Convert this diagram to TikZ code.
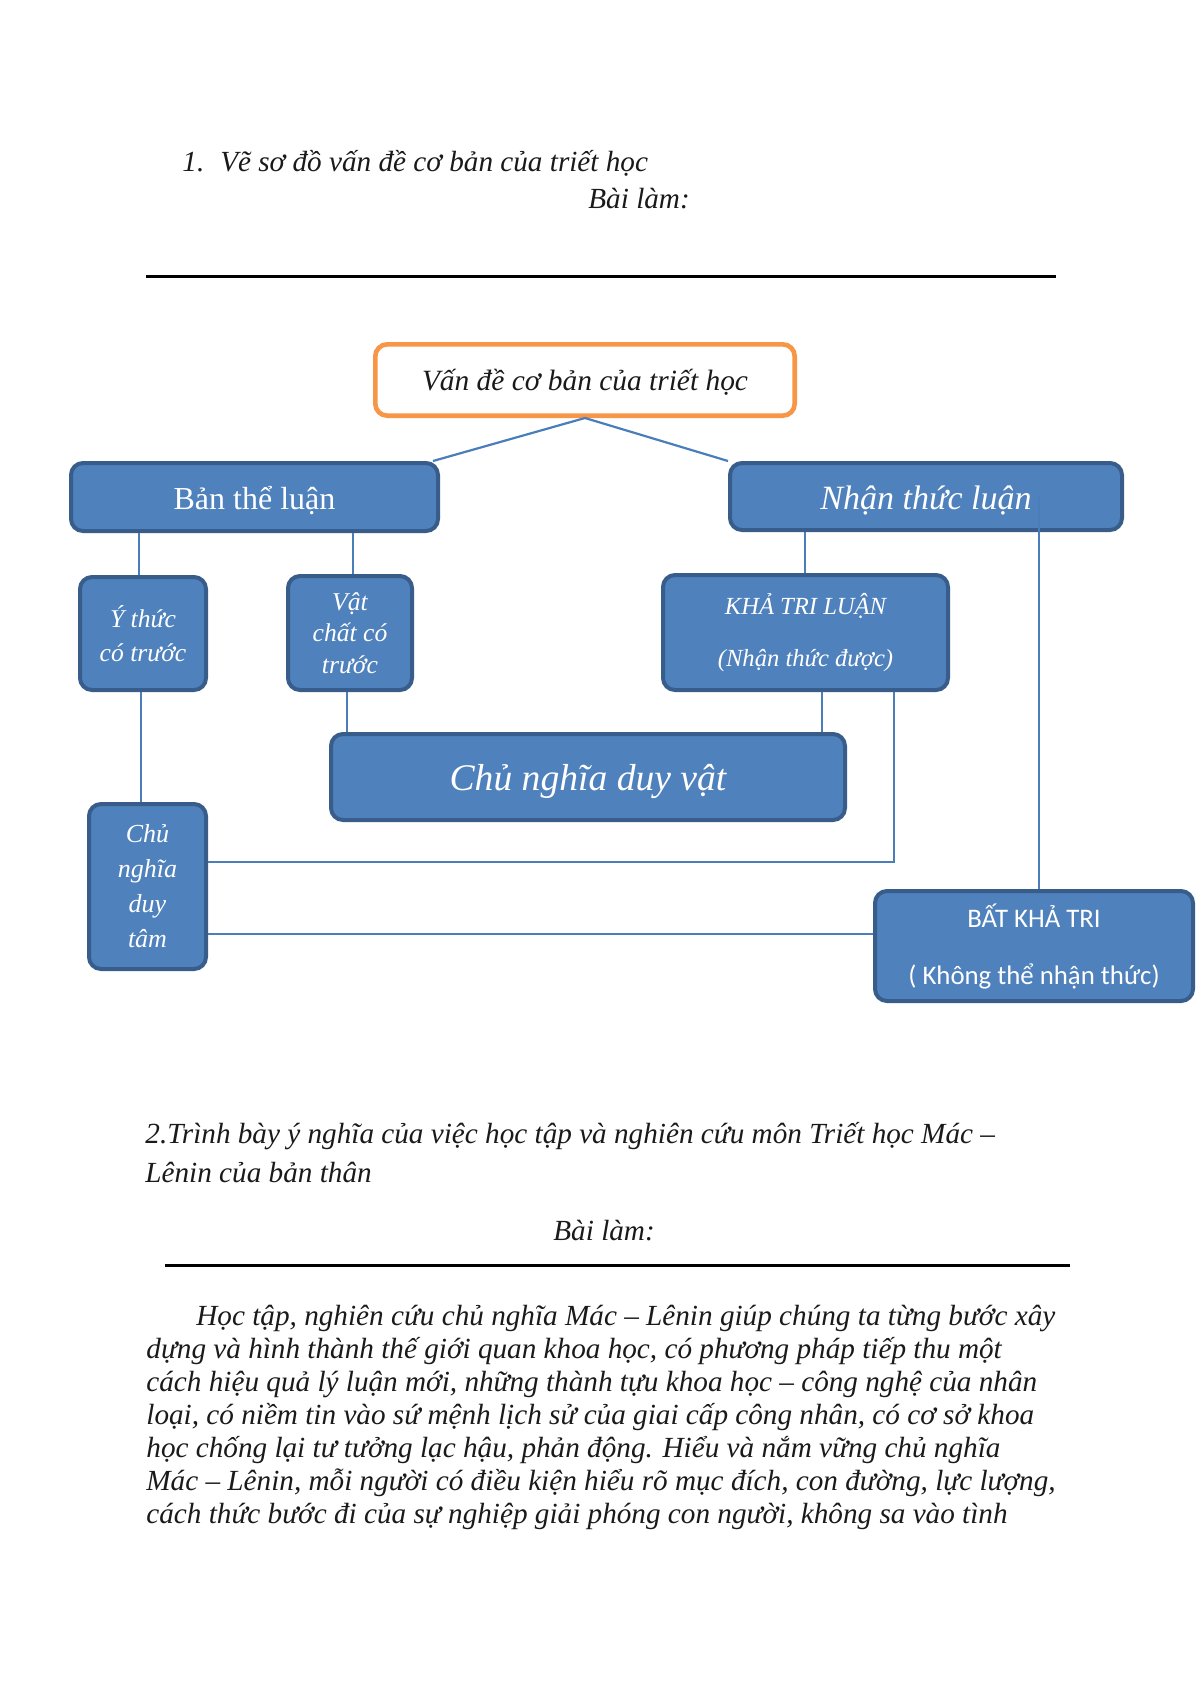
\documentclass[tikz,border=0pt]{standalone}
\usepackage{fontspec}
\setmainfont{Liberation Serif}
\newfontfamily\calib{Carlito}
\definecolor{boxfill}{HTML}{4F81BD}
\definecolor{boxborder}{HTML}{385D8A}
\definecolor{linecol}{HTML}{4A7EBB}
\definecolor{orng}{HTML}{F79646}
\definecolor{inkc}{HTML}{1A1A1A}
\newcommand{\lowr}[2]{\raisebox{-#1}[\height][\depth]{#2}}
\begin{document}
\begin{tikzpicture}[x=0.5pt,y=-0.5pt,
  bluebox/.style={draw=boxborder, line width=2pt, fill=boxfill, rounded corners=6pt,
    text=white, align=center, inner sep=0pt},
  orangebox/.style={draw=orng, line width=2.3pt, fill=white, rounded corners=6pt,
    align=center, inner sep=0pt, text=inkc},
  conn/.style={draw=linecol, line width=1.1pt},
  txt/.style={anchor=base west, inner sep=0pt, text=inkc, font=\fontsize{14.6}{17}\selectfont\itshape},
  rulel/.style={line width=1.5pt}]
\useasboundingbox[fill=white] (0,0) rectangle (1200,1698);

% headings
\node[txt] (t1) at (182,171) {1.\hspace{8pt}Vẽ sơ đồ vấn đề cơ bản của triết học};
\node[txt] (t2) at (588,208) {Bài làm:};
\draw[rulel] (146,276) -- (1056,276);

% diagram boxes
\node[orangebox, minimum width=209.7pt, minimum height=35.7pt,
  font=\fontsize{14.7}{17}\selectfont\itshape] (top) at (585,380)
  {\lowr{1pt}{Vấn đề cơ bản của triết học}};
\node[bluebox, minimum width=183.5pt, minimum height=34pt,
  font=\fontsize{16}{19}\selectfont] (ban) at (254.5,497)
  {\lowr{1.6pt}{Bản thể luận}};
\node[bluebox, minimum width=196pt, minimum height=33.5pt,
  font=\fontsize{17}{20}\selectfont\itshape] (nhan) at (926,496.5)
  {\lowr{2pt}{Nhận thức luận}};
\node[bluebox, minimum width=63pt, minimum height=56.5pt,
  font=\fontsize{12.8}{17}\selectfont\itshape] (ythuc) at (143,633.5)
  {Ý thức\\có trước};
\node[bluebox, minimum width=62pt, minimum height=57pt,
  font=\fontsize{12.8}{15.8}\selectfont\itshape] (vatchat) at (350,633)
  {Vật\\chất có\\trước};
\node[bluebox, minimum width=142.5pt, minimum height=57.5pt,
  font=\fontsize{12.3}{26}\selectfont\itshape] (khatri) at (805.5,632.5)
  {KHẢ TRI LUẬN\\(Nhận thức được)};
\node[bluebox, minimum width=257pt, minimum height=43pt,
  font=\fontsize{18.8}{22}\selectfont\itshape] (cndv) at (588,777)
  {\lowr{2pt}{Chủ nghĩa duy vật}};
\node[bluebox, minimum width=58.5pt, minimum height=82.5pt,
  font=\fontsize{13}{17.5}\selectfont\itshape] (cndt) at (147.5,886.5)
  {Chủ\\nghĩa\\duy\\tâm};
\node[bluebox, minimum width=159pt, minimum height=55pt,
  font=\calib\fontsize{13.4}{28.5}\selectfont] (batkha) at (1034,946)
  {BẤT KHẢ TRI\\( Không thể nhận thức)};

% connector helper coordinates
\coordinate (hA) at (0,862);
\coordinate (hB) at (0,934);
\coordinate (vY) at (139,0);
\coordinate (vY2) at (141,0);
\coordinate (vV) at (353,0);
\coordinate (vV2) at (347,0);
\coordinate (vKT) at (805,0);
\coordinate (vK) at (894,0);
\coordinate (vN) at (1039,0);
\coordinate (vC) at (822,0);

% connectors
\draw[conn] (top.south) -- ([xshift=-3.5pt]ban.north east);
\draw[conn] (top.south) -- (nhan.north west);
\draw[conn] (ythuc.north -| vY) -- (ban.south -| vY);
\draw[conn] (vatchat.north -| vV) -- (ban.south -| vV);
\draw[conn] (ythuc.south -| vY2) -- (cndt.north -| vY2);
\draw[conn] (vatchat.south -| vV2) -- (cndv.north -| vV2);
\draw[conn] (khatri.north -| vKT) -- (nhan.south -| vKT);
\draw[conn] (khatri.south -| vC) -- (cndv.north -| vC);
\draw[conn] (khatri.south -| vK) -- (vK |- hA) -- (cndt.east |- hA);
\draw[conn] (nhan.center -| vN) -- (batkha.north -| vN);
\draw[conn] (cndt.east |- hB) -- (batkha.west |- hB);

% section 2
\node[txt] (s2a) at (145,1143) {2.Trình bày ý nghĩa của việc học tập và nghiên cứu môn Triết học Mác –};
\node[txt] (s2b) at (145,1182) {Lênin của bản thân};
\node[txt] (s2c) at (553,1240) {Bài làm:};
\draw[rulel] (165,1265) -- (1070,1265);

\node[txt] (p1) at (196,1325) {Học tập, nghiên cứu chủ nghĩa Mác – Lênin giúp chúng ta từng bước xây};
\node[txt] (p2) at (146,1358) {dựng và hình thành thế giới quan khoa học, có phương pháp tiếp thu một};
\node[txt] (p3) at (146,1391) {cách hiệu quả lý luận mới, những thành tựu khoa học – công nghệ của nhân};
\node[txt] (p4) at (146,1424) {loại, có niềm tin vào sứ mệnh lịch sử của giai cấp công nhân, có cơ sở khoa};
\node[txt] (p5) at (146,1457) {học chống lại tư tưởng lạc hậu, phản động. Hiểu và nắm vững chủ nghĩa};
\node[txt] (p6) at (146,1490) {Mác – Lênin, mỗi người có điều kiện hiểu rõ mục đích, con đường, lực lượng,};
\node[txt] (p7) at (146,1523) {cách thức bước đi của sự nghiệp giải phóng con người, không sa vào tình};
\end{tikzpicture}
\end{document}
